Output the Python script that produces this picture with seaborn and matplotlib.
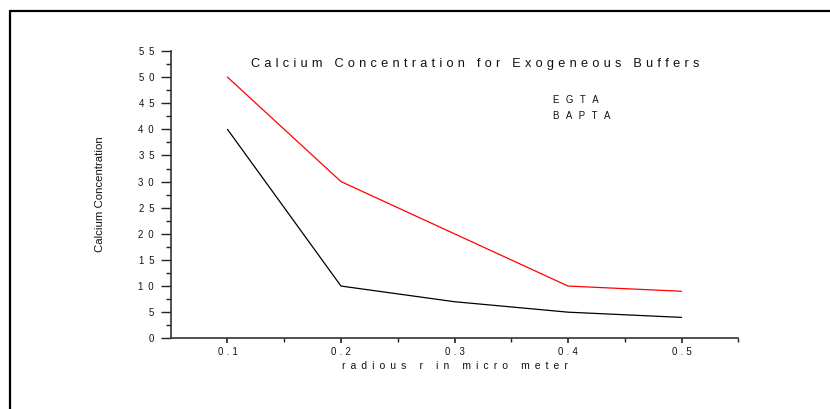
import matplotlib
matplotlib.use("Agg")
import matplotlib.pyplot as plt
import matplotlib.ticker as mtick
from matplotlib.lines import Line2D
import pandas as pd
import seaborn as sns

# values
radius = [0.1, 0.2, 0.3, 0.4, 0.5]
egta = [50, 30, 20, 10, 9]
bapta = [40, 10, 7, 5, 4]
buffer_names = ["EGTA", "BAPTA"]
x_ticks = [0.1, 0.2, 0.3, 0.4, 0.5]
y_ticks = [0, 5, 10, 15, 20, 25, 30, 35, 40, 45, 50, 55]

title = "Calcium Concentration for Exogeneous Buffers"
xlabel = "radious r in micro meter"
ylabel = "Calcium Concentration"

EN = "\u2002"     # en space
THIRD = "\u2004"  # three-per-em space


def spaced(s, gap):
    # the original plot uses wide letter spacing
    return gap.join(s)


df = pd.concat([
    pd.DataFrame({"radius": radius, "conc": egta, "buffer": buffer_names[0]}),
    pd.DataFrame({"radius": radius, "conc": bapta, "buffer": buffer_names[1]}),
], ignore_index=True)

sns.set_style("white")
plt.rcParams["font.family"] = ["Liberation Sans", "DejaVu Sans"]
plt.rcParams["text.color"] = "#111111"
plt.rcParams["axes.labelcolor"] = "#111111"
plt.rcParams["xtick.color"] = "#111111"
plt.rcParams["ytick.color"] = "#111111"

fig = plt.figure(figsize=(8.3, 4.09), dpi=100)
ax = fig.add_axes([0.2057, 0.1729, 0.6838, 0.7024])

sns.lineplot(data=df, x="radius", y="conc", hue="buffer",
             palette={"EGTA": "#ff0000", "BAPTA": "#000000"},
             linewidth=0.9, ax=ax)

ax.set_xlim(0.05, 0.55)
ax.set_ylim(0, 55)
ax.set_xticks(x_ticks)
ax.set_xticklabels([spaced(f"{v:.1f}", THIRD) for v in x_ticks])
ax.set_yticks(y_ticks)
ax.set_yticklabels([spaced(str(v), EN) for v in y_ticks])
ax.xaxis.set_minor_locator(mtick.FixedLocator([0.15, 0.25, 0.35, 0.45, 0.55]))
ax.yaxis.set_minor_locator(mtick.MultipleLocator(2.5))

for side in ["top", "right"]:
    ax.spines[side].set_visible(False)
for side in ["left", "bottom"]:
    ax.spines[side].set_color("#333333")
    ax.spines[side].set_linewidth(1.2)

ax.tick_params(axis="y", which="major", direction="out", length=7, width=1,
               pad=5, labelsize=6.9, left=True, color="#222222")
ax.tick_params(axis="y", which="minor", direction="out", length=3.5, width=1,
               left=True, color="#222222")
ax.tick_params(axis="x", which="major", direction="out", length=3.5, width=1.2,
               pad=3, labelsize=6.9, bottom=True, color="#222222")
ax.tick_params(axis="x", which="minor", direction="out", length=3, width=1,
               bottom=True, color="#222222")

ax.set_xlabel(spaced(xlabel, EN), fontsize=7.4, labelpad=3)
ax.set_ylabel(ylabel, fontsize=8.2, labelpad=24)

ax.text(0.536, 0.955, spaced(title, THIRD),
        transform=ax.transAxes, ha="center", va="center", fontsize=9.2)

handles, labels = ax.get_legend_handles_labels()
leg = ax.legend(handles, [spaced(l, THIRD + THIRD) for l in labels],
                frameon=False, handlelength=0, handletextpad=0,
                loc="upper left", bbox_to_anchor=(0.659, 0.876),
                fontsize=6.9, labelspacing=0.55)
for h in leg.legend_handles:
    h.set_visible(False)

# partial outer frame (left and top edges)
fig.add_artist(Line2D([10 / 830, 1.0], [1 - 11 / 409, 1 - 11 / 409],
                      transform=fig.transFigure, color="black", linewidth=1.6))
fig.add_artist(Line2D([10 / 830, 10 / 830], [1 - 11 / 409, 0.0],
                      transform=fig.transFigure, color="black", linewidth=1.6))

fig.savefig("out.png", dpi=100)
